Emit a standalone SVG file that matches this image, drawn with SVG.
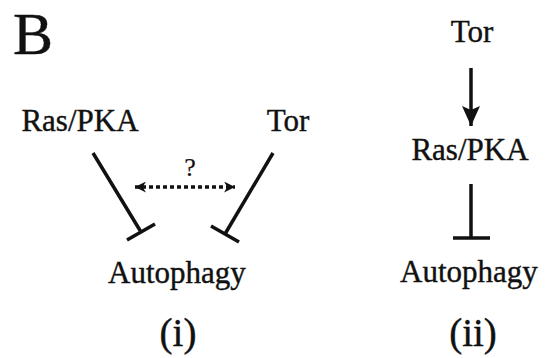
<svg xmlns="http://www.w3.org/2000/svg" width="547" height="358" viewBox="0 0 547 358">
<defs>
<style>
text{font-family:"Liberation Serif","Times New Roman",serif;fill:#111;stroke:#111;stroke-width:0.4;}
.lbl{font-size:31px;}
.line{stroke:#111;stroke-width:3.5;fill:none;}
.dash{stroke:#111;stroke-width:3.5;fill:none;stroke-dasharray:4 3;}
</style>
<marker id="head" viewBox="0 0 10 10" refX="10" refY="5" markerWidth="11" markerHeight="11" orient="auto-start-reverse" markerUnits="userSpaceOnUse">
<path d="M0,0 L10,5 L0,10 L3,5 Z" fill="#111"/>
</marker>
<marker id="bighead" viewBox="0 0 10 10" refX="10" refY="5" markerWidth="20" markerHeight="20" orient="auto" markerUnits="userSpaceOnUse">
<path d="M0,0.5 L10,5 L0,9.5 L2,5 Z" fill="#111"/>
</marker>
</defs>
<rect width="547" height="358" fill="#fff"/>
<text x="13" y="54" font-size="60">B</text>
<g id="ras1"><text class="lbl" x="80" y="131" text-anchor="middle">Ras/PKA</text></g>
<g id="tor1"><text class="lbl" x="288" y="131" text-anchor="middle">Tor</text></g>
<g id="auto1"><text class="lbl" x="177" y="283" text-anchor="middle">Autophagy</text></g>
<g id="label1"><text x="178" y="346" font-size="39" text-anchor="middle">(i)</text></g>
<g id="tor2"><text class="lbl" x="472" y="42" text-anchor="middle">Tor</text></g>
<g id="ras2"><text class="lbl" x="470" y="160" text-anchor="middle">Ras/PKA</text></g>
<g id="auto2"><text class="lbl" x="469" y="282" text-anchor="middle">Autophagy</text></g>
<g id="label2"><text x="473" y="346" font-size="39" text-anchor="middle">(ii)</text></g>
<g id="connectors">
<line class="line" x1="93" y1="153" x2="141" y2="232"/>
<line class="line" x1="127" y1="240" x2="155" y2="224"/>
<line class="line" x1="273" y1="153" x2="225" y2="234"/>
<line class="line" x1="211" y1="226" x2="239" y2="242"/>
<line class="dash" x1="135" y1="187" x2="235" y2="187" marker-start="url(#head)" marker-end="url(#head)"/>
<text x="190" y="176" font-size="26" text-anchor="middle" style="stroke-width:0.2">?</text>
<line class="line" x1="471" y1="68" x2="471" y2="126" marker-end="url(#bighead)"/>
<line class="line" x1="471" y1="184" x2="471" y2="238"/>
<line class="line" x1="453" y1="238" x2="490" y2="238"/>
</g>
</svg>
